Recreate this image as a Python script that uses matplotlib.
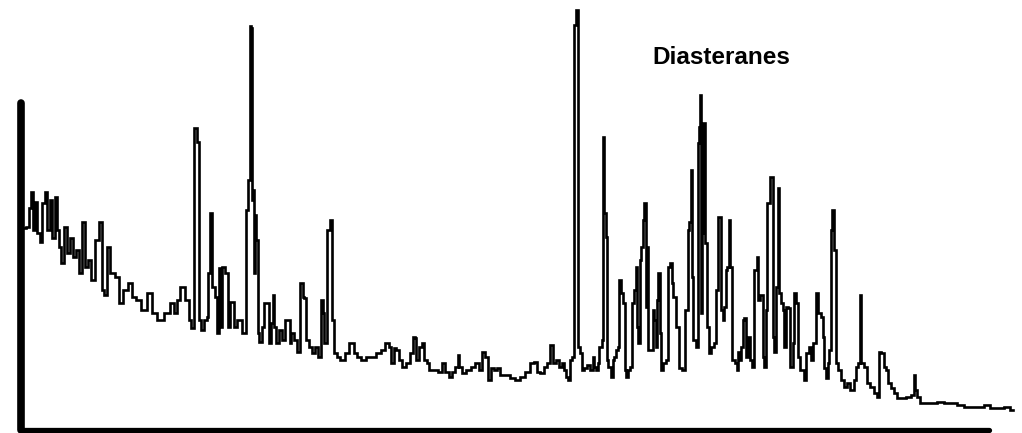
import matplotlib
matplotlib.use('Agg')
import matplotlib.pyplot as plt

# Retention position (arbitrary units) and detector response
retention = [
    23, 28, 30, 32, 34, 36, 38, 41, 43, 46, 48, 51, 53, 56, 58, 60, 62, 66, 68, 72,
    74, 78, 80, 84, 86, 89, 93, 97, 101, 103, 105, 108, 112, 117, 120, 125, 130, 133, 138, 143,
    150, 153, 160, 167, 172, 175, 178, 182, 187, 190, 192, 195, 198, 199, 202, 205, 208, 208, 211, 213,
    216, 218, 219, 220, 223, 227, 228, 232, 235, 238, 245, 247, 249, 250, 251, 252, 253, 254, 255, 257,
    258, 260, 263, 265, 268, 269, 272, 273, 274, 278, 280, 283, 287, 289, 290, 292, 295, 298, 302, 303,
    305, 307, 310, 313, 317, 319, 322, 323, 325, 328, 331, 333, 335, 338, 342, 347, 350, 353, 355, 358,
    363, 368, 373, 378, 383, 387, 390, 392, 395, 397, 400, 403, 408, 412, 414, 415, 417, 420, 423, 425,
    428, 430, 435, 440, 443, 447, 450, 453, 457, 458, 460, 463, 468, 473, 477, 480, 483, 487, 489, 492,
    495, 498, 502, 507, 512, 517, 522, 527, 532, 535, 538, 542, 545, 548, 552, 554, 557, 560, 563, 565,
    567, 569, 571, 573, 574, 577, 578, 581, 582, 585, 588, 592, 593, 595, 597, 598, 600, 603, 603, 605,
    607, 607, 609, 612, 613, 615, 617, 618, 619, 622, 624, 625, 627, 629, 631, 633, 635, 636, 637, 639,
    640, 642, 643, 645, 646, 647, 648, 653, 653, 655, 656, 657, 659, 660, 661, 664, 667, 668, 671, 672,
    674, 677, 680, 683, 687, 688, 690, 691, 692, 694, 697, 698, 699, 700, 701, 702, 704, 706, 707, 710,
    712, 715, 717, 718, 720, 722, 723, 725, 726, 728, 729, 731, 733, 736, 737, 738, 740, 742, 743, 745,
    747, 748, 751, 753, 755, 758, 758, 762, 763, 765, 766, 768, 772, 773, 775, 777, 778, 780, 782, 783,
    785, 787, 789, 790, 792, 793, 795, 797, 798, 802, 805, 807, 810, 812, 814, 817, 819, 822, 823, 824,
    827, 828, 830, 831, 833, 835, 837, 839, 842, 845, 848, 852, 855, 857, 859, 860, 862, 865, 868, 872,
    876, 878, 879, 883, 885, 887, 889, 892, 895, 898, 903, 908, 913, 914, 916, 918, 922, 927, 933, 940,
    947, 953, 960, 967, 973, 980, 987, 993, 1000, 1007, 1013,
]
abundance = [
    202, 203, 222, 238, 200, 228, 197, 188, 227, 238, 200, 230, 192, 233, 200, 183, 167, 203, 177, 192,
    173, 180, 157, 208, 163, 170, 150, 190, 208, 140, 135, 183, 157, 153, 127, 140, 147, 133, 130, 120,
    137, 117, 110, 117, 127, 117, 130, 143, 130, 110, 102, 302, 288, 110, 100, 110, 113, 157, 217, 143,
    133, 97, 162, 103, 163, 157, 103, 128, 103, 110, 97, 220, 250, 404, 402, 230, 240, 157, 215, 190,
    97, 88, 103, 127, 127, 87, 107, 135, 103, 87, 100, 90, 110, 110, 87, 97, 90, 78, 147, 133,
    132, 90, 83, 77, 83, 73, 130, 117, 87, 200, 210, 110, 77, 73, 70, 77, 87, 87, 77, 73,
    70, 73, 73, 77, 80, 87, 83, 67, 82, 80, 70, 63, 67, 77, 93, 92, 70, 83, 87, 70,
    67, 60, 60, 58, 67, 58, 53, 58, 63, 75, 63, 57, 60, 63, 67, 60, 78, 73, 50, 62,
    60, 62, 55, 55, 52, 50, 53, 58, 67, 68, 58, 57, 63, 67, 85, 67, 70, 63, 67, 60,
    53, 50, 70, 73, 405, 420, 83, 77, 60, 62, 65, 60, 73, 63, 60, 67, 83, 90, 293, 217,
    193, 70, 63, 53, 70, 73, 80, 83, 150, 137, 127, 60, 53, 60, 63, 127, 140, 163, 103, 87,
    170, 183, 210, 227, 123, 183, 80, 80, 120, 110, 83, 130, 157, 97, 60, 67, 70, 163, 167, 147,
    133, 103, 62, 60, 120, 200, 208, 260, 153, 90, 83, 287, 303, 335, 117, 197, 307, 187, 103, 77,
    83, 87, 140, 213, 213, 120, 110, 123, 160, 163, 210, 163, 70, 67, 60, 78, 70, 83, 110, 112,
    73, 93, 70, 63, 160, 173, 130, 135, 73, 63, 120, 227, 253, 93, 78, 143, 242, 137, 127, 120,
    83, 123, 122, 63, 63, 87, 137, 127, 73, 60, 50, 77, 83, 70, 87, 137, 117, 113, 93, 62,
    52, 67, 80, 200, 220, 180, 67, 60, 50, 43, 47, 40, 50, 63, 67, 135, 67, 63, 47, 43,
    37, 33, 78, 77, 63, 60, 47, 42, 37, 32, 32, 33, 35, 55, 40, 33, 27, 27, 27, 28,
    27, 27, 25, 23, 23, 23, 25, 22, 22, 23, 20,
]

# axis extents
x_axis = [21, 989]
y_axis = [0, 327]
label = 'Diasteranes'
label_pos = (721, 372)

fig = plt.figure(figsize=(10.22, 4.33), dpi=100)
ax = fig.add_axes([0, 0, 1, 1])
ax.set_xlim(0, 1022)
ax.set_ylim(-3, 430)
ax.axis('off')

# the trace, drawn stepwise like the digitised original
ax.plot(retention, abundance, color='black', lw=1.9, drawstyle='steps-mid',
        solid_joinstyle='miter')

# heavy axes
ax.plot([x_axis[0], x_axis[0]], y_axis, color='black', lw=5.5, solid_capstyle='round')
ax.plot(x_axis, [0, 0], color='black', lw=3.8, solid_capstyle='round')

ax.text(label_pos[0], label_pos[1], label, fontsize=17.5, fontweight='bold',
        family=['Liberation Sans', 'DejaVu Sans'], ha='center', va='center')

fig.savefig('out.png', dpi=100)
